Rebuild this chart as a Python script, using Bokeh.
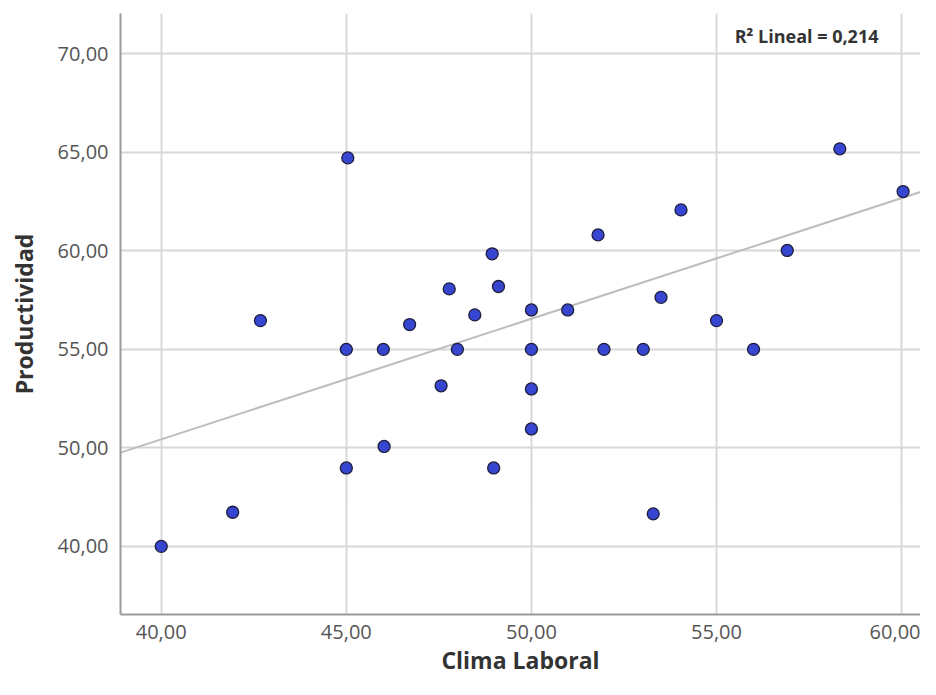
from bokeh.plotting import figure
from bokeh.models import ColumnDataSource, Range1d, FixedTicker, Label
from bokeh.embed import file_html
from bokeh.resources import INLINE

# ---- data ----
clima_laboral = [40.0, 41.93, 42.68, 45.04, 45.0, 45.0, 46.0, 46.02, 46.71, 47.78,
                 47.56, 48.0, 48.47, 48.94, 49.11, 48.98, 50.0, 50.0, 50.0, 50.0,
                 50.98, 51.96, 51.8, 53.02, 53.5, 53.29, 54.04, 55.0, 56.0, 56.91,
                 58.33, 60.04]
productividad = [45.0, 46.73, 56.46, 64.72, 55.0, 48.98, 55.0, 50.07, 56.26, 58.07,
                 53.15, 55.0, 56.75, 59.85, 58.19, 48.98, 57.0, 55.0, 52.99, 50.96,
                 57.0, 55.0, 60.81, 55.0, 57.64, 46.65, 62.08, 56.46, 55.0, 60.02,
                 65.18, 63.01]

x_ticks = [40, 45, 50, 55, 60]
x_tick_labels = ["40,00", "45,00", "50,00", "55,00", "60,00"]
y_ticks = [45, 50, 55, 60, 65, 70]
y_tick_labels = ["40,00", "50,00", "55,00", "60,00", "65,00", "70,00"]

fit_intercept = 25.93
fit_slope = 0.6125
r2_text = "R\u00b2 Lineal = 0,214"

X0, X1 = 38.9, 60.51
Y0, Y1 = 41.54, 72.05

p = figure(width=920, height=679, output_backend="svg", toolbar_location=None,
           x_range=Range1d(X0, X1), y_range=Range1d(Y0, Y1),
           min_border_left=120, min_border_right=0, min_border_top=13,
           min_border_bottom=65)
p.outline_line_color = None
p.background_fill_color = "white"

# axes
for ax, ticks, labels in ((p.xaxis[0], x_ticks, x_tick_labels), (p.yaxis[0], y_ticks, y_tick_labels)):
    ax.ticker = FixedTicker(ticks=ticks)
    ax.major_label_overrides = {t: l for t, l in zip(ticks, labels)}
    ax.major_tick_line_color = None
    ax.minor_tick_line_color = None
    ax.axis_line_color = "#9a9a9a"
    ax.axis_line_width = 2
    ax.major_label_text_font = "Open Sans"
    ax.major_label_text_font_size = "20px"
    ax.major_label_text_color = "#555555"
    ax.axis_label_text_font = "Open Sans"
    ax.axis_label_text_font_style = "bold"
    ax.axis_label_text_font_size = "23px"
    ax.axis_label_text_color = "#333333"

p.xaxis.axis_label = "Clima Laboral"
p.yaxis.axis_label = "Productividad"
p.xaxis.major_label_standoff = 4
p.yaxis.major_label_standoff = 6
p.xaxis.axis_label_standoff = 2
p.yaxis.axis_label_standoff = 15

p.xgrid.ticker = FixedTicker(ticks=x_ticks)
p.ygrid.ticker = FixedTicker(ticks=y_ticks)
p.grid.grid_line_color = "#d8d8d8"
p.grid.grid_line_width = 2

# regression line
fit_x = [X0, X1]
fit_y = [fit_intercept + fit_slope * v for v in fit_x]
p.line(fit_x, fit_y, line_color="#bdbdbd", line_width=2)

# points
src = ColumnDataSource(dict(x=clima_laboral, y=productividad))
p.scatter("x", "y", source=src, size=12, fill_color="#3646d0",
          line_color="#1e1e3c", line_width=1.3)

# R² annotation
p.add_layout(Label(x=55.49, y=70.93, text=r2_text, text_baseline="middle",
                   text_font="Open Sans", text_font_style="bold",
                   text_font_size="18px", text_color="#333333"))

open("out.html", "w").write(file_html(p, INLINE))
